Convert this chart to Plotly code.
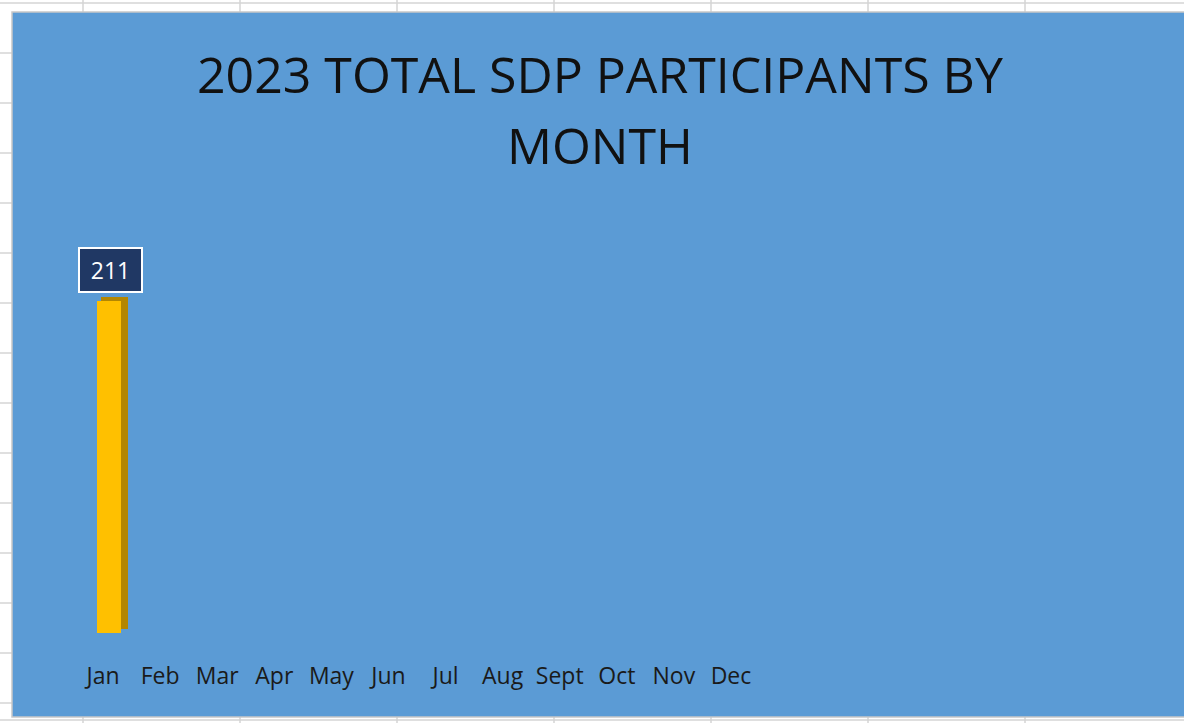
import plotly.graph_objects as go

months = ["Jan", "Feb", "Mar", "Apr", "May", "Jun", "Jul", "Aug", "Sept", "Oct", "Nov", "Dec"]
participants = [211, None, None, None, None, None, None, None, None, None, None, None]
title_lines = ["2023 TOTAL SDP PARTICIPANTS BY", "MONTH"]

W, H = 1184, 723
def px(x):
    return x / W
def py(y):
    return 1 - y / H

BLUE = "#5B9BD5"
YELLOW = "#FFC000"
YELLOW_DARK = "#B38600"
NAVY = "#203864"

fig = go.Figure()

# 3D side / back face of the bar
fig.add_trace(go.Bar(
    x=months, y=participants, base=2.5,
    width=0.47, offset=-0.05,
    marker=dict(color=YELLOW_DARK, line=dict(width=0)),
    hoverinfo="skip", showlegend=False,
))
# front face
fig.add_trace(go.Bar(
    x=months, y=participants,
    width=0.42, offset=-0.12,
    marker=dict(color=YELLOW, line=dict(width=0)),
    showlegend=False,
))

# data labels
for m, v in zip(months, participants):
    if v is None:
        continue
    fig.add_annotation(
        x=m, y=v, xref="x", yref="y", text=str(v), showarrow=False,
        xshift=7, yshift=31, font=dict(family="Open Sans", size=23, color="white"),
        bgcolor=NAVY, bordercolor="white", borderwidth=2,
        width=59, height=40, align="center", valign="middle",
    )

# title (two lines, Excel style)
for i, line in enumerate(title_lines):
    fig.add_annotation(
        x=px(600), y=py(74 + 71 * i), xref="paper", yref="paper", text=line, showarrow=False,
        xanchor="center", yanchor="middle",
        font=dict(family="Open Sans", size=50, color="#111111"),
    )

shapes = []
# excel sheet gridlines behind the chart
grid = "#D4D4D4"
shapes.append(dict(type="line", xref="paper", yref="paper", x0=0, x1=1, y0=py(3), y1=py(3), line=dict(color=grid, width=1.5), layer="below"))
shapes.append(dict(type="line", xref="paper", yref="paper", x0=0, x1=1, y0=py(720), y1=py(720), line=dict(color=grid, width=1.5), layer="below"))
for gx in [83, 240, 397, 554, 711, 868, 1025]:
    shapes.append(dict(type="line", xref="paper", yref="paper", x0=px(gx), x1=px(gx), y0=0, y1=1, line=dict(color=grid, width=1.5), layer="below"))
for gy in range(53, 720, 50):
    shapes.append(dict(type="line", xref="paper", yref="paper", x0=0, x1=px(12), y0=py(gy), y1=py(gy), line=dict(color=grid, width=1.5), layer="below"))
# chart area
shapes.append(dict(type="rect", xref="paper", yref="paper", x0=px(12), x1=px(1186), y0=py(717), y1=py(12),
                   fillcolor=BLUE, line=dict(color="#C8C8C8", width=1.5), layer="below"))

y_bottom_px, y_top_px = 633, 200
y_per_unit = (633 - 301) / 211
y_max = (y_bottom_px - y_top_px) / y_per_unit

fig.update_layout(
    width=W, height=H,
    margin=dict(l=0, r=0, t=0, b=0),
    paper_bgcolor="white", plot_bgcolor="rgba(0,0,0,0)",
    shapes=shapes,
    barmode="overlay",
    xaxis=dict(domain=[px(74.5), px(759.5)], range=[-0.5, 11.5], showgrid=False, zeroline=False,
               showline=False, ticks="outside", ticklen=22, tickcolor="rgba(0,0,0,0)",
               tickfont=dict(family="Open Sans", size=23, color="#1a1a1a"),
               fixedrange=True),
    yaxis=dict(domain=[py(y_bottom_px), py(y_top_px)], range=[0, y_max], visible=False, fixedrange=True),
    showlegend=False,
    bargap=0,
)

fig.write_html("out.html", config={"displayModeBar": False},
               post_script="document.body.style.margin='0';document.body.style.overflow='hidden';")
